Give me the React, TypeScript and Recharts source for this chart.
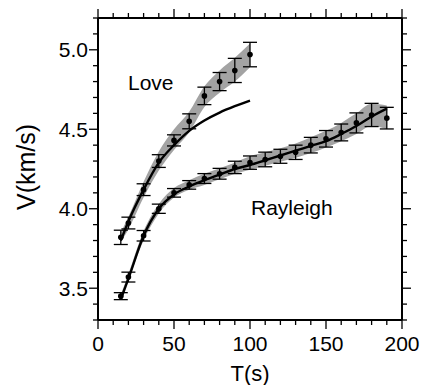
import React from 'react';
import {
  ComposedChart,
  XAxis,
  YAxis,
  Area,
  Line,
  Scatter,
  ErrorBar,
} from 'recharts';

// Love wave dispersion
const loveT = [15, 20, 30, 40, 50, 60, 70, 80, 90, 100];
const loveV = [3.82, 3.91, 4.12, 4.3, 4.43, 4.55, 4.71, 4.8, 4.87, 4.97];
const loveErr = [0.045, 0.037, 0.037, 0.04, 0.035, 0.047, 0.055, 0.057, 0.076, 0.077];
const loveLo = [3.79, 3.87, 4.07, 4.24, 4.37, 4.48, 4.64, 4.73, 4.8, 4.89];
const loveHi = [3.85, 3.95, 4.17, 4.36, 4.5, 4.61, 4.77, 4.87, 4.95, 5.04];
const loveModel = [3.8, 3.92, 4.12, 4.29, 4.4, 4.49, 4.555, 4.605, 4.645, 4.68];

// Rayleigh wave dispersion
const rayT = [15, 20, 30, 40, 50, 60, 70, 80, 90, 100, 110, 120, 130, 140, 150, 160, 170, 180, 190];
const rayV = [3.45, 3.57, 3.83, 4.0, 4.1, 4.15, 4.19, 4.22, 4.26, 4.29, 4.31, 4.33, 4.355, 4.4, 4.44, 4.48, 4.54, 4.59, 4.57];
const rayErr = [0.022, 0.031, 0.033, 0.029, 0.027, 0.027, 0.031, 0.034, 0.039, 0.042, 0.046, 0.044, 0.045, 0.049, 0.052, 0.053, 0.063, 0.073, 0.068];
const rayLo = [3.43, 3.55, 3.8, 3.97, 4.07, 4.12, 4.15, 4.185, 4.22, 4.245, 4.27, 4.295, 4.32, 4.35, 4.385, 4.425, 4.47, 4.52, 4.5];
const rayHi = [3.46, 3.59, 3.86, 4.03, 4.13, 4.18, 4.22, 4.255, 4.29, 4.33, 4.355, 4.38, 4.41, 4.45, 4.49, 4.54, 4.6, 4.66, 4.65];
const rayModel = [3.43, 3.56, 3.83, 4.0, 4.09, 4.14, 4.18, 4.215, 4.25, 4.275, 4.305, 4.335, 4.365, 4.395, 4.425, 4.47, 4.52, 4.58, 4.63];

// axis ticks
const xTicks = [0, 10, 20, 30, 40, 50, 60, 70, 80, 90, 100, 110, 120, 130, 140, 150, 160, 170, 180, 190, 200];
const xMajor = [0, 50, 100, 150, 200];
const yTicks = [3.3, 3.4, 3.5, 3.6, 3.7, 3.8, 3.9, 4.0, 4.1, 4.2, 4.3, 4.4, 4.5, 4.6, 4.7, 4.8, 4.9, 5.0, 5.1, 5.2];
const yMajor = [3.5, 4.0, 4.5, 5.0];

const loveRows = loveT.map((T, i) => ({
  T,
  V: loveV[i],
  err: loveErr[i],
  band: [loveLo[i], loveHi[i]],
  model: loveModel[i],
}));

const rayRows = rayT.map((T, i) => ({
  T,
  V: rayV[i],
  err: rayErr[i],
  band: [rayLo[i], rayHi[i]],
  model: rayModel[i],
}));

const FONT = '"Liberation Sans", Arial, Helvetica, sans-serif';
const MAJOR = 9;
const MINOR = 5;

const isMajorY = (v: number) => yMajor.some((m) => Math.abs(m - v) < 1e-6);

const xTick = (side: 'bottom' | 'top') => (props: any) => {
  const { x, y, payload } = props;
  const major = xMajor.includes(payload.value);
  const len = major ? MAJOR : MINOR;
  const dir = side === 'bottom' ? 1 : -1;
  return (
    <g>
      <line x1={x} y1={y} x2={x} y2={y + dir * len} stroke="#000" strokeWidth={1.3} />
      {side === 'bottom' && major && (
        <text x={x} y={y + 31} textAnchor="middle" fontSize={21} fontFamily={FONT} fill="#000">
          {payload.value}
        </text>
      )}
    </g>
  );
};

const yTick = (side: 'left' | 'right') => (props: any) => {
  const { x, y, payload } = props;
  const major = isMajorY(payload.value);
  const len = major ? MAJOR : MINOR;
  const dir = side === 'left' ? -1 : 1;
  return (
    <g>
      <line x1={x} y1={y} x2={x + dir * len} y2={y} stroke="#000" strokeWidth={1.3} />
      {side === 'left' && major && (
        <text x={x - 10} y={y + 7.5} textAnchor="end" fontSize={21} fontFamily={FONT} fill="#000">
          {payload.value.toFixed(1)}
        </text>
      )}
    </g>
  );
};

const dot = (props: any) => <circle cx={props.cx} cy={props.cy} r={2.8} fill="#000" />;

const axisLine = { stroke: '#000', strokeWidth: 2 };

export default function App() {
  return (
    <div style={{ position: 'absolute', left: 0, top: 0, width: 424, height: 385, background: '#fff' }}>
      <ComposedChart
        width={424}
        height={385}
        margin={{ top: 8, right: 12, bottom: 25, left: 58 }}
      >
        <XAxis
          xAxisId="b"
          type="number"
          dataKey="T"
          domain={[0, 200]}
          ticks={xTicks}
          interval={0}
          height={40}
          tickSize={0}
          tickMargin={0}
          tickLine={false}
          axisLine={axisLine}
          tick={xTick('bottom')}
          allowDataOverflow
        />
        <XAxis
          xAxisId="t"
          orientation="top"
          type="number"
          dataKey="T"
          domain={[0, 200]}
          ticks={xTicks}
          interval={0}
          height={10}
          tickSize={0}
          tickMargin={0}
          tickLine={false}
          axisLine={axisLine}
          tick={xTick('top')}
          allowDataOverflow
        />
        <YAxis
          yAxisId="l"
          type="number"
          domain={[3.3, 5.2]}
          ticks={yTicks}
          interval={0}
          width={40}
          tickSize={0}
          tickMargin={0}
          tickLine={false}
          axisLine={axisLine}
          tick={yTick('left')}
          allowDataOverflow
        />
        <YAxis
          yAxisId="r"
          orientation="right"
          type="number"
          domain={[3.3, 5.2]}
          ticks={yTicks}
          interval={0}
          width={10}
          tickSize={0}
          tickMargin={0}
          tickLine={false}
          axisLine={axisLine}
          tick={yTick('right')}
          allowDataOverflow
        />

        <Area
          xAxisId="b"
          yAxisId="l"
          data={loveRows}
          dataKey="band"
          type="monotone"
          stroke="none"
          fill="#a3a3a3"
          fillOpacity={1}
          isAnimationActive={false}
        />
        <Area
          xAxisId="b"
          yAxisId="l"
          data={rayRows}
          dataKey="band"
          type="monotone"
          stroke="none"
          fill="#a3a3a3"
          fillOpacity={1}
          isAnimationActive={false}
        />
        <Line
          xAxisId="b"
          yAxisId="l"
          data={loveRows}
          dataKey="model"
          type="monotone"
          stroke="#000"
          strokeWidth={2.4}
          dot={false}
          isAnimationActive={false}
        />
        <Line
          xAxisId="b"
          yAxisId="l"
          data={rayRows}
          dataKey="model"
          type="monotone"
          stroke="#000"
          strokeWidth={2.4}
          dot={false}
          isAnimationActive={false}
        />
        <Scatter
          xAxisId="b"
          yAxisId="l"
          data={loveRows}
          dataKey="V"
          fill="#000"
          shape={dot}
          isAnimationActive={false}
        >
          <ErrorBar dataKey="err" direction="y" width={7} stroke="#000" strokeWidth={1.3} />
        </Scatter>
        <Scatter
          xAxisId="b"
          yAxisId="l"
          data={rayRows}
          dataKey="V"
          fill="#000"
          shape={dot}
          isAnimationActive={false}
        >
          <ErrorBar dataKey="err" direction="y" width={7} stroke="#000" strokeWidth={1.3} />
        </Scatter>
      </ComposedChart>
      <svg
        width={424}
        height={385}
        style={{ position: 'absolute', left: 0, top: 0, pointerEvents: 'none' }}
        fontFamily={FONT}
      >
        <text x={128} y={90} fontSize={21} fill="#000">Love</text>
        <text x={251} y={215} fontSize={21} fill="#000">Rayleigh</text>
        <text x={250} y={381} fontSize={22} textAnchor="middle" fill="#000">T(s)</text>
        <text
          x={35}
          y={167}
          fontSize={25}
          textAnchor="middle"
          fill="#000"
          transform="rotate(-90, 35, 167)"
        >
          V(km/s)
        </text>
      </svg>
    </div>
  );
}
